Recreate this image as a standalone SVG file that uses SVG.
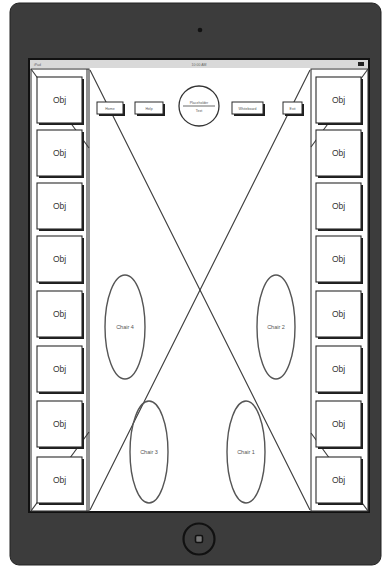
<svg xmlns="http://www.w3.org/2000/svg" width="382" height="567" viewBox="0 0 382 567">
<style>
.obj rect.sh{fill:#1e1e1e}
.obj rect.bx{fill:#fff;stroke:#2a2a2a;stroke-width:1.1}
.obj text{font-family:"Liberation Sans",Arial,sans-serif;font-size:8.5px;fill:#333;text-anchor:middle}
.btn rect.sh{fill:#1e1e1e}
.btn rect.bx{fill:#fff;stroke:#2a2a2a;stroke-width:1}
.btn text{font-family:"Liberation Sans",Arial,sans-serif;font-size:3.5px;fill:#555;text-anchor:middle}
.chair ellipse{fill:none;stroke:#555;stroke-width:1.4}
.chair text{font-family:"Liberation Sans",Arial,sans-serif;font-size:5.5px;fill:#555;text-anchor:middle}
.ln{stroke:#3a3a3a;stroke-width:1.1;fill:none}
</style>
<rect width="382" height="567" fill="#fff"/>
<g id="device">
<rect x="10" y="3" width="371" height="562" rx="9" fill="#3c3c3c" stroke="#222" stroke-width="1"/>
<circle cx="200" cy="30" r="2.3" fill="#111"/>
<rect x="28" y="58" width="342" height="455" fill="#111"/>
<rect x="30" y="60" width="338" height="8" fill="#d9d9d9"/>
<text x="34" y="66" font-family="Liberation Sans,Arial,sans-serif" font-size="3.5" fill="#666">iPad</text>
<text x="199" y="66" font-family="Liberation Sans,Arial,sans-serif" font-size="3.5" fill="#666" text-anchor="middle">10:00 AM</text>
<rect x="358" y="62" width="6" height="4" fill="#222"/>
<rect x="30" y="68" width="338" height="443" fill="#fff"/>
<circle cx="199" cy="539" r="15.5" fill="none" stroke="#111" stroke-width="2.2"/>
<rect x="195.5" y="535.5" width="7" height="7" rx="1.5" fill="#777" stroke="#111" stroke-width="1.6"/>
</g>
<g id="connectors">
<rect x="31" y="69" width="58" height="442" class="ln"/>
<line x1="87" y1="69" x2="87" y2="511" class="ln"/>
<rect x="311" y="69" width="57" height="442" class="ln"/>
<line x1="90" y1="70" x2="310" y2="510" class="ln"/>
<line x1="310" y1="70" x2="90" y2="510" class="ln"/>
<line x1="31" y1="69" x2="89" y2="148" class="ln"/>
<line x1="31" y1="511" x2="89" y2="432" class="ln"/>
<line x1="368" y1="69" x2="311" y2="147" class="ln"/>
<line x1="368" y1="511" x2="311" y2="433" class="ln"/>
</g>
<g id="obj-l1" class="obj"><rect class="sh" x="39" y="79" width="45" height="46"/><rect class="bx" x="37" y="77" width="45" height="46"/><text x="59.5" y="103">Obj</text></g>
<g id="obj-l2" class="obj"><rect class="sh" x="39" y="132" width="45" height="46"/><rect class="bx" x="37" y="130" width="45" height="46"/><text x="59.5" y="156">Obj</text></g>
<g id="obj-l3" class="obj"><rect class="sh" x="39" y="185" width="45" height="46"/><rect class="bx" x="37" y="183" width="45" height="46"/><text x="59.5" y="209">Obj</text></g>
<g id="obj-l4" class="obj"><rect class="sh" x="39" y="238" width="45" height="46"/><rect class="bx" x="37" y="236" width="45" height="46"/><text x="59.5" y="262">Obj</text></g>
<g id="obj-l5" class="obj"><rect class="sh" x="39" y="293" width="45" height="46"/><rect class="bx" x="37" y="291" width="45" height="46"/><text x="59.5" y="317">Obj</text></g>
<g id="obj-l6" class="obj"><rect class="sh" x="39" y="348" width="45" height="46"/><rect class="bx" x="37" y="346" width="45" height="46"/><text x="59.5" y="372">Obj</text></g>
<g id="obj-l7" class="obj"><rect class="sh" x="39" y="403" width="45" height="46"/><rect class="bx" x="37" y="401" width="45" height="46"/><text x="59.5" y="427">Obj</text></g>
<g id="obj-l8" class="obj"><rect class="sh" x="39" y="459" width="45" height="46"/><rect class="bx" x="37" y="457" width="45" height="46"/><text x="59.5" y="483">Obj</text></g>
<g id="obj-r1" class="obj"><rect class="sh" x="318" y="79" width="45" height="46"/><rect class="bx" x="316" y="77" width="45" height="46"/><text x="338.5" y="103">Obj</text></g>
<g id="obj-r2" class="obj"><rect class="sh" x="318" y="132" width="45" height="46"/><rect class="bx" x="316" y="130" width="45" height="46"/><text x="338.5" y="156">Obj</text></g>
<g id="obj-r3" class="obj"><rect class="sh" x="318" y="185" width="45" height="46"/><rect class="bx" x="316" y="183" width="45" height="46"/><text x="338.5" y="209">Obj</text></g>
<g id="obj-r4" class="obj"><rect class="sh" x="318" y="238" width="45" height="46"/><rect class="bx" x="316" y="236" width="45" height="46"/><text x="338.5" y="262">Obj</text></g>
<g id="obj-r5" class="obj"><rect class="sh" x="318" y="293" width="45" height="46"/><rect class="bx" x="316" y="291" width="45" height="46"/><text x="338.5" y="317">Obj</text></g>
<g id="obj-r6" class="obj"><rect class="sh" x="318" y="348" width="45" height="46"/><rect class="bx" x="316" y="346" width="45" height="46"/><text x="338.5" y="372">Obj</text></g>
<g id="obj-r7" class="obj"><rect class="sh" x="318" y="403" width="45" height="46"/><rect class="bx" x="316" y="401" width="45" height="46"/><text x="338.5" y="427">Obj</text></g>
<g id="obj-r8" class="obj"><rect class="sh" x="318" y="459" width="45" height="46"/><rect class="bx" x="316" y="457" width="45" height="46"/><text x="338.5" y="483">Obj</text></g>
<g id="btn-home" class="btn"><rect class="sh" x="99" y="104" width="26" height="12"/><rect class="bx" x="97" y="102" width="26" height="12"/><text x="110" y="109.5">Home</text></g>
<g id="btn-help" class="btn"><rect class="sh" x="137" y="104" width="28" height="12"/><rect class="bx" x="135" y="102" width="28" height="12"/><text x="149" y="109.5">Help</text></g>
<g id="btn-whiteboard" class="btn"><rect class="sh" x="234" y="104" width="31" height="12"/><rect class="bx" x="232" y="102" width="31" height="12"/><text x="247.5" y="109.5">Whiteboard</text></g>
<g id="btn-exit" class="btn"><rect class="sh" x="285" y="104" width="19" height="12"/><rect class="bx" x="283" y="102" width="19" height="12"/><text x="292.5" y="109.5">Exit</text></g>
<g id="presenter" class="btn">
<circle cx="199" cy="106" r="20" fill="#fff" stroke="#333" stroke-width="1.3"/>
<text x="199" y="104">Placeholder</text>
<line x1="183" y1="106" x2="215" y2="106" stroke="#444" stroke-width="0.8"/>
<text x="199" y="112">Text</text>
</g>
<g id="chair4" class="chair"><ellipse cx="125" cy="327" rx="20" ry="52"/><text x="125" y="329">Chair 4</text></g>
<g id="chair2" class="chair"><ellipse cx="276" cy="327" rx="19" ry="52"/><text x="276" y="329">Chair 2</text></g>
<g id="chair3" class="chair"><ellipse cx="149" cy="452" rx="19" ry="51"/><text x="149" y="454">Chair 3</text></g>
<g id="chair1" class="chair"><ellipse cx="246" cy="452" rx="19" ry="51"/><text x="246" y="454">Chair 1</text></g>
</svg>
